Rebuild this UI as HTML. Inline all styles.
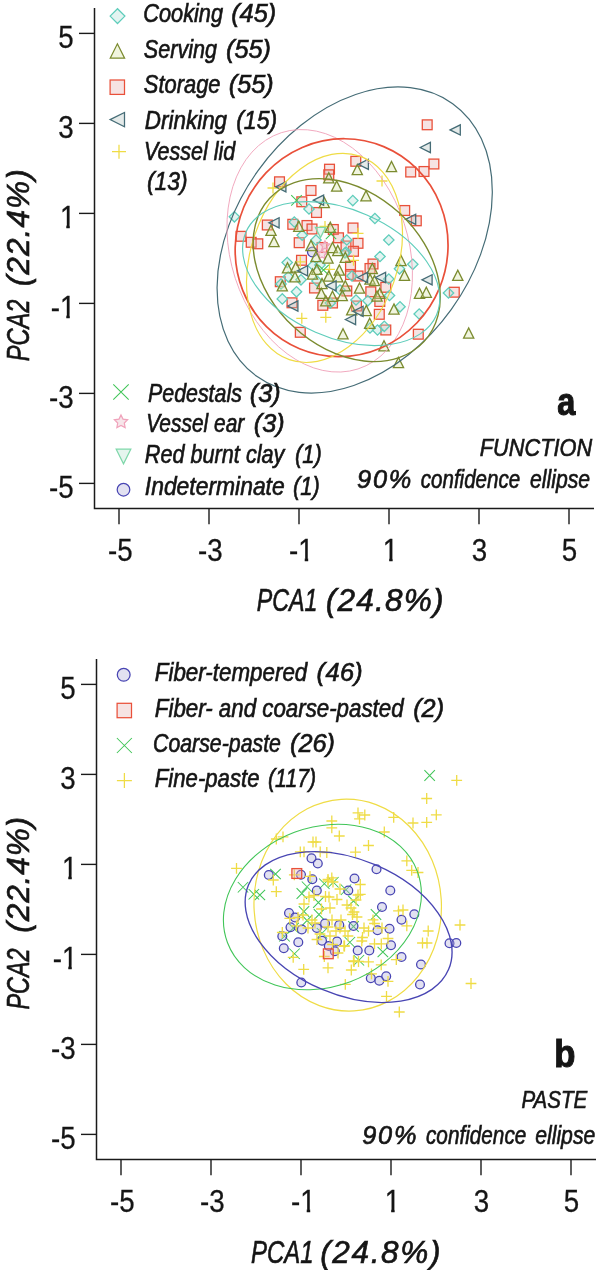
<!DOCTYPE html><html><head><meta charset="utf-8"><title>PCA</title><style>
html,body{margin:0;padding:0;background:#fff}svg{display:block;will-change:transform}
text{font-family:"Liberation Sans",sans-serif;fill:#151515;stroke:#151515;stroke-width:.35px}.i{font-style:italic;stroke-width:.65px}.b{font-weight:bold;stroke-width:1.1px}.n{stroke-width:.3px}
</style></head><body>
<svg width="600" height="1270" viewBox="0 0 600 1270">
<rect width="600" height="1270" fill="#fff"/>
<g id="pa">
<g stroke="#1a1a1a" stroke-width="1.5" fill="none">
<path d="M94.5 8V508.6H594"/>
</g><g stroke="#1a1a1a" stroke-width="1.4" fill="none">
<path d="M119 508.6V524.2"/>
<path d="M79 483.4H94.5"/>
<path d="M209 508.6V524.2"/>
<path d="M79 393.4H94.5"/>
<path d="M299 508.6V524.2"/>
<path d="M79 303.4H94.5"/>
<path d="M389 508.6V524.2"/>
<path d="M79 213.4H94.5"/>
<path d="M479 508.6V524.2"/>
<path d="M79 123.4H94.5"/>
<path d="M569 508.6V524.2"/>
<path d="M79 33.4H94.5"/>
</g>
<g transform="translate(120.4 560.7) scale(0.88 1)"><text class="n" font-size="31.5" x="-14.00" y="0">-5</text></g>
<g transform="translate(73.6 497.5) scale(0.88 1)"><text class="n" font-size="31.5" x="-28.00" y="0">-5</text></g>
<g transform="translate(210.4 560.7) scale(0.88 1)"><text class="n" font-size="31.5" x="-14.00" y="0">-3</text></g>
<g transform="translate(73.6 407.5) scale(0.88 1)"><text class="n" font-size="31.5" x="-28.00" y="0">-3</text></g>
<clipPath id="c20_0"><path d="M-40 -40H40V-2.7H7.7V2H3.8V-2.7H-40Z"/></clipPath>
<g transform="translate(301.4 560.7) scale(0.88 1)" clip-path="url(#c20_0)"><text class="n" font-size="31.5" x="-14.00" y="0">-1</text></g>
<clipPath id="c22_0"><path d="M-40 -40H40V-2.7H-6.3V2H-10.2V-2.7H-40Z"/></clipPath>
<g transform="translate(75.3 317.5) scale(0.88 1)" clip-path="url(#c22_0)"><text class="n" font-size="31.5" x="-28.00" y="0">-1</text></g>
<clipPath id="c24_0"><path d="M-40 -40H40V-2.7H2.4V2H-1.5V-2.7H-40Z"/></clipPath>
<g transform="translate(390.5 560.7) scale(0.88 1)" clip-path="url(#c24_0)"><text class="n" font-size="31.5" x="-8.76" y="0">1</text></g>
<clipPath id="c26_0"><path d="M-40 -40H40V-2.7H-6.3V2H-10.2V-2.7H-40Z"/></clipPath>
<g transform="translate(75.3 227.5) scale(0.88 1)" clip-path="url(#c26_0)"><text class="n" font-size="31.5" x="-17.51" y="0">1</text></g>
<g transform="translate(479.5 560.7) scale(0.88 1)"><text class="n" font-size="31.5" x="-8.76" y="0">3</text></g>
<g transform="translate(73.6 137.5) scale(0.88 1)"><text class="n" font-size="31.5" x="-17.51" y="0">3</text></g>
<g transform="translate(569.5 560.7) scale(0.88 1)"><text class="n" font-size="31.5" x="-8.76" y="0">5</text></g>
<g transform="translate(73.6 47.5) scale(0.88 1)"><text class="n" font-size="31.5" x="-17.51" y="0">5</text></g>
<g stroke-width="1.3" fill-opacity=".35">
<rect x="274.6" y="176.9" width="9.8" height="9.8" fill="rgb(229,175,175)" stroke="#e9503a"/>
<rect x="306.1" y="185.6" width="9.8" height="9.8" fill="rgb(229,175,175)" stroke="#e9503a"/>
<rect x="296.9" y="196.9" width="9.8" height="9.8" fill="rgb(229,175,175)" stroke="#e9503a"/>
<rect x="324.6" y="164.3" width="9.8" height="9.8" fill="rgb(229,175,175)" stroke="#e9503a"/>
<rect x="323.9" y="169.9" width="9.8" height="9.8" fill="rgb(229,175,175)" stroke="#e9503a"/>
<rect x="350.9" y="156.4" width="9.8" height="9.8" fill="rgb(229,175,175)" stroke="#e9503a"/>
<rect x="311.6" y="207.6" width="9.8" height="9.8" fill="rgb(229,175,175)" stroke="#e9503a"/>
<rect x="422.3" y="119.9" width="9.8" height="9.8" fill="rgb(229,175,175)" stroke="#e9503a"/>
<rect x="429" y="159.1" width="9.8" height="9.8" fill="rgb(229,175,175)" stroke="#e9503a"/>
<rect x="405.8" y="167.1" width="9.8" height="9.8" fill="rgb(229,175,175)" stroke="#e9503a"/>
<rect x="419.1" y="166.6" width="9.8" height="9.8" fill="rgb(229,175,175)" stroke="#e9503a"/>
<rect x="399.8" y="205.6" width="9.8" height="9.8" fill="rgb(229,175,175)" stroke="#e9503a"/>
<rect x="411.4" y="215.9" width="9.8" height="9.8" fill="rgb(229,175,175)" stroke="#e9503a"/>
<rect x="449.4" y="287.3" width="9.8" height="9.8" fill="rgb(229,175,175)" stroke="#e9503a"/>
<rect x="236.1" y="231.4" width="9.8" height="9.8" fill="rgb(229,175,175)" stroke="#e9503a"/>
<rect x="246.3" y="237.4" width="9.8" height="9.8" fill="rgb(229,175,175)" stroke="#e9503a"/>
<rect x="252.9" y="238.9" width="9.8" height="9.8" fill="rgb(229,175,175)" stroke="#e9503a"/>
<rect x="262.4" y="220.1" width="9.8" height="9.8" fill="rgb(229,175,175)" stroke="#e9503a"/>
<rect x="287.9" y="219.4" width="9.8" height="9.8" fill="rgb(229,175,175)" stroke="#e9503a"/>
<rect x="302.1" y="220.6" width="9.8" height="9.8" fill="rgb(229,175,175)" stroke="#e9503a"/>
<rect x="294.3" y="237.8" width="9.8" height="9.8" fill="rgb(229,175,175)" stroke="#e9503a"/>
<rect x="296.6" y="255.4" width="9.8" height="9.8" fill="rgb(229,175,175)" stroke="#e9503a"/>
<rect x="275.4" y="276.8" width="9.8" height="9.8" fill="rgb(229,175,175)" stroke="#e9503a"/>
<rect x="287.1" y="297.9" width="9.8" height="9.8" fill="rgb(229,175,175)" stroke="#e9503a"/>
<rect x="307.1" y="224.1" width="9.8" height="9.8" fill="rgb(229,175,175)" stroke="#e9503a"/>
<rect x="328.4" y="224.6" width="9.8" height="9.8" fill="rgb(229,175,175)" stroke="#e9503a"/>
<rect x="333.6" y="232.9" width="9.8" height="9.8" fill="rgb(229,175,175)" stroke="#e9503a"/>
<rect x="348.1" y="223.1" width="9.8" height="9.8" fill="rgb(229,175,175)" stroke="#e9503a"/>
<rect x="353.1" y="238.4" width="9.8" height="9.8" fill="rgb(229,175,175)" stroke="#e9503a"/>
<rect x="348.6" y="246.4" width="9.8" height="9.8" fill="rgb(229,175,175)" stroke="#e9503a"/>
<rect x="341.1" y="241.1" width="9.8" height="9.8" fill="rgb(229,175,175)" stroke="#e9503a"/>
<rect x="317.1" y="242.6" width="9.8" height="9.8" fill="rgb(229,175,175)" stroke="#e9503a"/>
<rect x="368.1" y="259.1" width="9.8" height="9.8" fill="rgb(229,175,175)" stroke="#e9503a"/>
<rect x="365.1" y="263.6" width="9.8" height="9.8" fill="rgb(229,175,175)" stroke="#e9503a"/>
<rect x="345.6" y="261.4" width="9.8" height="9.8" fill="rgb(229,175,175)" stroke="#e9503a"/>
<rect x="345.6" y="269.6" width="9.8" height="9.8" fill="rgb(229,175,175)" stroke="#e9503a"/>
<rect x="353.1" y="271.1" width="9.8" height="9.8" fill="rgb(229,175,175)" stroke="#e9503a"/>
<rect x="309.6" y="283.1" width="9.8" height="9.8" fill="rgb(229,175,175)" stroke="#e9503a"/>
<rect x="341.9" y="286.1" width="9.8" height="9.8" fill="rgb(229,175,175)" stroke="#e9503a"/>
<rect x="365.9" y="286.9" width="9.8" height="9.8" fill="rgb(229,175,175)" stroke="#e9503a"/>
<rect x="380.9" y="282.4" width="9.8" height="9.8" fill="rgb(229,175,175)" stroke="#e9503a"/>
<rect x="295.4" y="327.4" width="9.8" height="9.8" fill="rgb(229,175,175)" stroke="#e9503a"/>
<rect x="317.9" y="300.4" width="9.8" height="9.8" fill="rgb(229,175,175)" stroke="#e9503a"/>
<rect x="327.6" y="298.1" width="9.8" height="9.8" fill="rgb(229,175,175)" stroke="#e9503a"/>
<rect x="374.9" y="296.6" width="9.8" height="9.8" fill="rgb(229,175,175)" stroke="#e9503a"/>
<rect x="374.4" y="309.4" width="9.8" height="9.8" fill="rgb(229,175,175)" stroke="#e9503a"/>
<rect x="380.9" y="325.1" width="9.8" height="9.8" fill="rgb(229,175,175)" stroke="#e9503a"/>
<rect x="351.6" y="301.1" width="9.8" height="9.8" fill="rgb(229,175,175)" stroke="#e9503a"/>
<rect x="413.4" y="329.3" width="9.8" height="9.8" fill="rgb(229,175,175)" stroke="#e9503a"/>
<path d="M267.5 188H278.5M273 182.5V193.5" fill="none" stroke="#efdc45"/>
<path d="M376.5 181H387.5M382 175.5V186.5" fill="none" stroke="#efdc45"/>
<path d="M294.8 261.8H305.8M300.3 256.3V267.3" fill="none" stroke="#efdc45"/>
<path d="M319.5 226.5H330.5M325 221V232" fill="none" stroke="#efdc45"/>
<path d="M352.5 233.3H363.5M358 227.8V238.8" fill="none" stroke="#efdc45"/>
<path d="M348 260.3H359M353.5 254.8V265.8" fill="none" stroke="#efdc45"/>
<path d="M324 269.3H335M329.5 263.8V274.8" fill="none" stroke="#efdc45"/>
<path d="M296.3 318.3H307.3M301.8 312.8V323.8" fill="none" stroke="#efdc45"/>
<path d="M320.3 317.3H331.3M325.8 311.8V322.8" fill="none" stroke="#efdc45"/>
<path d="M229.2 216.8L234.4 211.6L239.6 216.8L234.4 222Z" fill="rgb(175,224,215)" stroke="#5fcdbb"/>
<path d="M347.6 200.6L352.8 195.4L358 200.6L352.8 205.8Z" fill="rgb(175,224,215)" stroke="#5fcdbb"/>
<path d="M303.8 209L309 203.8L314.2 209L309 214.2Z" fill="rgb(175,224,215)" stroke="#5fcdbb"/>
<path d="M369.7 218.5L374.9 213.3L380.1 218.5L374.9 223.7Z" fill="rgb(175,224,215)" stroke="#5fcdbb"/>
<path d="M289.1 222L294.3 216.8L299.5 222L294.3 227.2Z" fill="rgb(175,224,215)" stroke="#5fcdbb"/>
<path d="M297 235.2L302.2 230L307.4 235.2L302.2 240.4Z" fill="rgb(175,224,215)" stroke="#5fcdbb"/>
<path d="M282 262.5L287.2 257.3L292.4 262.5L287.2 267.7Z" fill="rgb(175,224,215)" stroke="#5fcdbb"/>
<path d="M283.1 276.8L288.3 271.6L293.5 276.8L288.3 282Z" fill="rgb(175,224,215)" stroke="#5fcdbb"/>
<path d="M295.8 279.8L301 274.6L306.2 279.8L301 285Z" fill="rgb(175,224,215)" stroke="#5fcdbb"/>
<path d="M291.3 291.8L296.5 286.6L301.7 291.8L296.5 297Z" fill="rgb(175,224,215)" stroke="#5fcdbb"/>
<path d="M277.1 298.9L282.3 293.7L287.5 298.9L282.3 304.1Z" fill="rgb(175,224,215)" stroke="#5fcdbb"/>
<path d="M383.6 240L388.8 234.8L394 240L388.8 245.2Z" fill="rgb(175,224,215)" stroke="#5fcdbb"/>
<path d="M374.8 256.5L380 251.3L385.2 256.5L380 261.7Z" fill="rgb(175,224,215)" stroke="#5fcdbb"/>
<path d="M341.6 240L346.8 234.8L352 240L346.8 245.2Z" fill="rgb(175,224,215)" stroke="#5fcdbb"/>
<path d="M310.8 240L316 234.8L321.2 240L316 245.2Z" fill="rgb(175,224,215)" stroke="#5fcdbb"/>
<path d="M340.8 252L346 246.8L351.2 252L346 257.2Z" fill="rgb(175,224,215)" stroke="#5fcdbb"/>
<path d="M346.8 276L352 270.8L357.2 276L352 281.2Z" fill="rgb(175,224,215)" stroke="#5fcdbb"/>
<path d="M383.6 279L388.8 273.8L394 279L388.8 284.2Z" fill="rgb(175,224,215)" stroke="#5fcdbb"/>
<path d="M384.3 295.5L389.5 290.3L394.7 295.5L389.5 300.7Z" fill="rgb(175,224,215)" stroke="#5fcdbb"/>
<path d="M350.8 300L356 294.8L361.2 300L356 305.2Z" fill="rgb(175,224,215)" stroke="#5fcdbb"/>
<path d="M362.6 300.8L367.8 295.6L373 300.8L367.8 306Z" fill="rgb(175,224,215)" stroke="#5fcdbb"/>
<path d="M394.3 268.8L399.5 263.6L404.7 268.8L399.5 274Z" fill="rgb(175,224,215)" stroke="#5fcdbb"/>
<path d="M307.8 265.5L313 260.3L318.2 265.5L313 270.7Z" fill="rgb(175,224,215)" stroke="#5fcdbb"/>
<path d="M407.6 264.3L412.8 259.1L418 264.3L412.8 269.5Z" fill="rgb(175,224,215)" stroke="#5fcdbb"/>
<path d="M443.3 293L448.5 287.8L453.7 293L448.5 298.2Z" fill="rgb(175,224,215)" stroke="#5fcdbb"/>
<path d="M372.3 330L377.5 324.8L382.7 330L377.5 335.2Z" fill="rgb(175,224,215)" stroke="#5fcdbb"/>
<path d="M379.1 326.3L384.3 321.1L389.5 326.3L384.3 331.5Z" fill="rgb(175,224,215)" stroke="#5fcdbb"/>
<path d="M364.8 328L370 322.8L375.2 328L370 333.2Z" fill="rgb(175,224,215)" stroke="#5fcdbb"/>
<path d="M325.1 303L330.3 297.8L335.5 303L330.3 308.2Z" fill="rgb(175,224,215)" stroke="#5fcdbb"/>
<path d="M394.8 306.8L400 301.6L405.2 306.8L400 312Z" fill="rgb(175,224,215)" stroke="#5fcdbb"/>
<path d="M414 314L419.2 308.8L424.4 314L419.2 319.2Z" fill="rgb(175,224,215)" stroke="#5fcdbb"/>
<path d="M314.8 265L320 259.8L325.2 265L320 270.2Z" fill="rgb(175,224,215)" stroke="#5fcdbb"/>
<path d="M275.8 284L281 278.8L286.2 284L281 289.2Z" fill="rgb(175,224,215)" stroke="#5fcdbb"/>
<path d="M311.8 281L317 275.8L322.2 281L317 286.2Z" fill="rgb(175,224,215)" stroke="#5fcdbb"/>
<path d="M339.8 253L345 247.8L350.2 253L345 258.2Z" fill="rgb(175,224,215)" stroke="#5fcdbb"/>
<path d="M334.8 290L340 284.8L345.2 290L340 295.2Z" fill="rgb(175,224,215)" stroke="#5fcdbb"/>
<circle cx="312.3" cy="252" r="4.8" fill="rgb(172,169,215)" stroke="#4845b3"/>
<polygon points="325,240.7 326.5,243.7 329.8,244.1 327.4,246.5 328,249.8 325,248.2 322,249.8 322.6,246.5 320.2,244.1 323.5,243.7" fill="rgb(229,184,195)" stroke="#f0a3bb"/>
<polygon points="322,249.4 323.5,252.4 326.8,252.8 324.4,255.2 325,258.5 322,256.9 319,258.5 319.6,255.2 317.2,252.8 320.5,252.4" fill="rgb(229,184,195)" stroke="#f0a3bb"/>
<path d="M315.4 227.4L325.6 227.4L320.5 237.6Z" fill="rgb(181,226,206)" stroke="#7ed7a9"/>
<path d="M291.2 195.2L301.8 205.7M291.2 205.7L301.8 195.2" fill="none" stroke="#41c558" stroke-width="1.05"/>
<path d="M325.8 228.8L336.2 239.2M325.8 239.2L336.2 228.8" fill="none" stroke="#41c558" stroke-width="1.05"/>
<path d="M318.2 264.8L328.8 275.2M318.2 275.2L328.8 264.8" fill="none" stroke="#41c558" stroke-width="1.05"/>
<path d="M323.7 182.9L328.8 172.7L333.9 182.9Z" fill="rgb(215,226,164)" stroke="#7b8b2f"/>
<path d="M331.6 191.1L336.7 180.9L341.8 191.1Z" fill="rgb(215,226,164)" stroke="#7b8b2f"/>
<path d="M352.2 174.6L357.3 164.4L362.4 174.6Z" fill="rgb(215,226,164)" stroke="#7b8b2f"/>
<path d="M386.4 171.6L391.5 161.4L396.6 171.6Z" fill="rgb(215,226,164)" stroke="#7b8b2f"/>
<path d="M360.9 200.9L366 190.7L371.1 200.9Z" fill="rgb(215,226,164)" stroke="#7b8b2f"/>
<path d="M319.2 207.6L324.3 197.4L329.4 207.6Z" fill="rgb(215,226,164)" stroke="#7b8b2f"/>
<path d="M265.9 235.4L271 225.2L276.1 235.4Z" fill="rgb(215,226,164)" stroke="#7b8b2f"/>
<path d="M268.9 246.6L274 236.4L279.1 246.6Z" fill="rgb(215,226,164)" stroke="#7b8b2f"/>
<path d="M293.7 231.3L298.8 221.1L303.9 231.3Z" fill="rgb(215,226,164)" stroke="#7b8b2f"/>
<path d="M282.4 272.9L287.5 262.7L292.6 272.9Z" fill="rgb(215,226,164)" stroke="#7b8b2f"/>
<path d="M290.7 272.1L295.8 261.9L300.9 272.1Z" fill="rgb(215,226,164)" stroke="#7b8b2f"/>
<path d="M289.9 281.9L295 271.7L300.1 281.9Z" fill="rgb(215,226,164)" stroke="#7b8b2f"/>
<path d="M277.2 290.9L282.3 280.7L287.4 290.9Z" fill="rgb(215,226,164)" stroke="#7b8b2f"/>
<path d="M325.2 232.3L330.3 222.1L335.4 232.3Z" fill="rgb(215,226,164)" stroke="#7b8b2f"/>
<path d="M305.9 250.6L311 240.4L316.1 250.6Z" fill="rgb(215,226,164)" stroke="#7b8b2f"/>
<path d="M327.4 252.6L332.5 242.4L337.6 252.6Z" fill="rgb(215,226,164)" stroke="#7b8b2f"/>
<path d="M332.7 255.6L337.8 245.4L342.9 255.6Z" fill="rgb(215,226,164)" stroke="#7b8b2f"/>
<path d="M310.9 261.6L316 251.4L321.1 261.6Z" fill="rgb(215,226,164)" stroke="#7b8b2f"/>
<path d="M322.9 263.1L328 252.9L333.1 263.1Z" fill="rgb(215,226,164)" stroke="#7b8b2f"/>
<path d="M340.2 262.4L345.3 252.2L350.4 262.4Z" fill="rgb(215,226,164)" stroke="#7b8b2f"/>
<path d="M311.7 274.4L316.8 264.2L321.9 274.4Z" fill="rgb(215,226,164)" stroke="#7b8b2f"/>
<path d="M334.2 275.1L339.3 264.9L344.4 275.1Z" fill="rgb(215,226,164)" stroke="#7b8b2f"/>
<path d="M323.7 281.1L328.8 270.9L333.9 281.1Z" fill="rgb(215,226,164)" stroke="#7b8b2f"/>
<path d="M332.7 281.9L337.8 271.7L342.9 281.9Z" fill="rgb(215,226,164)" stroke="#7b8b2f"/>
<path d="M367.2 273.6L372.3 263.4L377.4 273.6Z" fill="rgb(215,226,164)" stroke="#7b8b2f"/>
<path d="M316.9 288.6L322 278.4L327.1 288.6Z" fill="rgb(215,226,164)" stroke="#7b8b2f"/>
<path d="M340.2 290.9L345.3 280.7L350.4 290.9Z" fill="rgb(215,226,164)" stroke="#7b8b2f"/>
<path d="M316.2 298.4L321.3 288.2L326.4 298.4Z" fill="rgb(215,226,164)" stroke="#7b8b2f"/>
<path d="M354.4 293.1L359.5 282.9L364.6 293.1Z" fill="rgb(215,226,164)" stroke="#7b8b2f"/>
<path d="M364.9 284.1L370 273.9L375.1 284.1Z" fill="rgb(215,226,164)" stroke="#7b8b2f"/>
<path d="M369.4 285.6L374.5 275.4L379.6 285.6Z" fill="rgb(215,226,164)" stroke="#7b8b2f"/>
<path d="M374.7 298.4L379.8 288.2L384.9 298.4Z" fill="rgb(215,226,164)" stroke="#7b8b2f"/>
<path d="M337.2 300.6L342.3 290.4L347.4 300.6Z" fill="rgb(215,226,164)" stroke="#7b8b2f"/>
<path d="M327.4 301.4L332.5 291.2L337.6 301.4Z" fill="rgb(215,226,164)" stroke="#7b8b2f"/>
<path d="M395.9 265.6L401 255.4L406.1 265.6Z" fill="rgb(215,226,164)" stroke="#7b8b2f"/>
<path d="M399.4 280.4L404.5 270.2L409.6 280.4Z" fill="rgb(215,226,164)" stroke="#7b8b2f"/>
<path d="M452.7 280.4L457.8 270.2L462.9 280.4Z" fill="rgb(215,226,164)" stroke="#7b8b2f"/>
<path d="M414.4 298.4L419.5 288.2L424.6 298.4Z" fill="rgb(215,226,164)" stroke="#7b8b2f"/>
<path d="M421.2 297.3L426.3 287.1L431.4 297.3Z" fill="rgb(215,226,164)" stroke="#7b8b2f"/>
<path d="M320.7 305.9L325.8 295.7L330.9 305.9Z" fill="rgb(215,226,164)" stroke="#7b8b2f"/>
<path d="M346.6 314.9L351.7 304.7L356.8 314.9Z" fill="rgb(215,226,164)" stroke="#7b8b2f"/>
<path d="M361.2 315.6L366.3 305.4L371.4 315.6Z" fill="rgb(215,226,164)" stroke="#7b8b2f"/>
<path d="M364.6 328.4L369.7 318.2L374.8 328.4Z" fill="rgb(215,226,164)" stroke="#7b8b2f"/>
<path d="M337.9 338.9L343 328.7L348.1 338.9Z" fill="rgb(215,226,164)" stroke="#7b8b2f"/>
<path d="M388.9 314.1L394 303.9L399.1 314.1Z" fill="rgb(215,226,164)" stroke="#7b8b2f"/>
<path d="M378.9 350.9L384 340.7L389.1 350.9Z" fill="rgb(215,226,164)" stroke="#7b8b2f"/>
<path d="M393.4 367.6L398.5 357.4L403.6 367.6Z" fill="rgb(215,226,164)" stroke="#7b8b2f"/>
<path d="M463.6 338.1L468.7 327.9L473.8 338.1Z" fill="rgb(215,226,164)" stroke="#7b8b2f"/>
<path d="M307.4 279.1L312.5 268.9L317.6 279.1Z" fill="rgb(215,226,164)" stroke="#7b8b2f"/>
<path d="M371.9 301.1L377 290.9L382.1 301.1Z" fill="rgb(215,226,164)" stroke="#7b8b2f"/>
<path d="M275.7 186.8L285.9 181.7L285.9 191.9Z" fill="rgb(178,195,192)" stroke="#456c76"/>
<path d="M313.4 200.2L323.6 195.1L323.6 205.3Z" fill="rgb(178,195,192)" stroke="#456c76"/>
<path d="M358.2 164.3L368.4 159.2L368.4 169.4Z" fill="rgb(178,195,192)" stroke="#456c76"/>
<path d="M450.1 129.9L460.3 124.8L460.3 135Z" fill="rgb(178,195,192)" stroke="#456c76"/>
<path d="M420.2 147.5L430.4 142.4L430.4 152.6Z" fill="rgb(178,195,192)" stroke="#456c76"/>
<path d="M405.5 219.3L415.7 214.2L415.7 224.4Z" fill="rgb(178,195,192)" stroke="#456c76"/>
<path d="M421.9 279.8L432.1 274.7L432.1 284.9Z" fill="rgb(178,195,192)" stroke="#456c76"/>
<path d="M268.9 222.8L279.1 217.7L279.1 227.9Z" fill="rgb(178,195,192)" stroke="#456c76"/>
<path d="M297.4 270.8L307.6 265.7L307.6 275.9Z" fill="rgb(178,195,192)" stroke="#456c76"/>
<path d="M325.9 285.8L336.1 280.7L336.1 290.9Z" fill="rgb(178,195,192)" stroke="#456c76"/>
<path d="M357.4 277.5L367.6 272.4L367.6 282.6Z" fill="rgb(178,195,192)" stroke="#456c76"/>
<path d="M375.4 277.5L385.6 272.4L385.6 282.6Z" fill="rgb(178,195,192)" stroke="#456c76"/>
<path d="M287.7 306L297.9 300.9L297.9 311.1Z" fill="rgb(178,195,192)" stroke="#456c76"/>
<path d="M352.9 311.3L363.1 306.2L363.1 316.4Z" fill="rgb(178,195,192)" stroke="#456c76"/>
<path d="M345.4 319.5L355.6 314.4L355.6 324.6Z" fill="rgb(178,195,192)" stroke="#456c76"/>
<ellipse cx="354.7" cy="240" rx="167.9" ry="119" transform="rotate(-54.3 354.7 240)" fill="none" stroke="#456c76" stroke-width="1.2"/>
<ellipse cx="319.7" cy="250.8" rx="124.2" ry="88.8" transform="rotate(-108 319.7 250.8)" fill="none" stroke="#f0a3bb" stroke-width="0.85"/>
<ellipse cx="341.6" cy="247.7" rx="109.5" ry="105.9" transform="rotate(-67.4 341.6 247.7)" fill="none" stroke="#e9503a" stroke-width="1.7"/>
<ellipse cx="324.5" cy="257.9" rx="107.7" ry="73.4" transform="rotate(-70.9 324.5 257.9)" fill="none" stroke="#efdc45" stroke-width="1.2"/>
<ellipse cx="346.7" cy="270.1" rx="105.3" ry="77.7" transform="rotate(-137.2 346.7 270.1)" fill="none" stroke="#7b8b2f" stroke-width="1.4"/>
<ellipse cx="341.2" cy="273.6" rx="103.9" ry="64" transform="rotate(-156.4 341.2 273.6)" fill="none" stroke="#5fcdbb" stroke-width="1.15"/>
</g><g stroke-width="1.25" fill-opacity=".35">
<path d="M110.1 16.1L117.5 8.7L124.9 16.1L117.5 23.5Z" fill="rgb(175,224,215)" stroke="#5fcdbb"/>
<path d="M110.2 58.2L117.4 43.8L124.6 58.2Z" fill="rgb(215,226,164)" stroke="#7b8b2f"/>
<rect x="110.1" y="80" width="14.4" height="14.4" fill="rgb(229,175,175)" stroke="#e9503a"/>
<path d="M110.1 119.6L124.5 112.4L124.5 126.8Z" fill="rgb(178,195,192)" stroke="#456c76"/>
<path d="M112 151.7H126M119 144.7V158.7" fill="none" stroke="#efdc45"/>
<path d="M113.3 384.4L128.7 399.6M113.3 399.6L128.7 384.4" fill="none" stroke="#41c558" stroke-width="1.05"/>
<polygon points="121,415 123,419.1 127.6,419.8 124.3,423 125.1,427.5 121,425.4 116.9,427.5 117.7,423 114.4,419.8 119,419.1" fill="rgb(229,184,195)" stroke="#f0a3bb"/>
<path d="M116.2 449.2L130.8 449.2L123.5 463.8Z" fill="rgb(181,226,206)" stroke="#7ed7a9"/>
<circle cx="123.5" cy="489.7" r="6.3" fill="rgb(172,169,215)" stroke="#4845b3"/>
</g>
</g>
<g id="pb">
<g stroke="#1a1a1a" stroke-width="1.5" fill="none">
<path d="M96.5 659V1159.6H596"/>
</g><g stroke="#1a1a1a" stroke-width="1.4" fill="none">
<path d="M121 1159.6V1175.2"/>
<path d="M81 1134.4H96.5"/>
<path d="M211 1159.6V1175.2"/>
<path d="M81 1044.4H96.5"/>
<path d="M301 1159.6V1175.2"/>
<path d="M81 954.4H96.5"/>
<path d="M391 1159.6V1175.2"/>
<path d="M81 864.4H96.5"/>
<path d="M481 1159.6V1175.2"/>
<path d="M81 774.4H96.5"/>
<path d="M571 1159.6V1175.2"/>
<path d="M81 684.4H96.5"/>
</g>
<g transform="translate(122.4 1211.7) scale(0.88 1)"><text class="n" font-size="31.5" x="-14.00" y="0">-5</text></g>
<g transform="translate(75.6 1148.5) scale(0.88 1)"><text class="n" font-size="31.5" x="-28.00" y="0">-5</text></g>
<g transform="translate(212.4 1211.7) scale(0.88 1)"><text class="n" font-size="31.5" x="-14.00" y="0">-3</text></g>
<g transform="translate(75.6 1058.5) scale(0.88 1)"><text class="n" font-size="31.5" x="-28.00" y="0">-3</text></g>
<clipPath id="c20_651"><path d="M-40 -40H40V-2.7H7.7V2H3.8V-2.7H-40Z"/></clipPath>
<g transform="translate(303.4 1211.7) scale(0.88 1)" clip-path="url(#c20_651)"><text class="n" font-size="31.5" x="-14.00" y="0">-1</text></g>
<clipPath id="c22_651"><path d="M-40 -40H40V-2.7H-6.3V2H-10.2V-2.7H-40Z"/></clipPath>
<g transform="translate(77.3 968.5) scale(0.88 1)" clip-path="url(#c22_651)"><text class="n" font-size="31.5" x="-28.00" y="0">-1</text></g>
<clipPath id="c24_651"><path d="M-40 -40H40V-2.7H2.4V2H-1.5V-2.7H-40Z"/></clipPath>
<g transform="translate(392.5 1211.7) scale(0.88 1)" clip-path="url(#c24_651)"><text class="n" font-size="31.5" x="-8.76" y="0">1</text></g>
<clipPath id="c26_651"><path d="M-40 -40H40V-2.7H-6.3V2H-10.2V-2.7H-40Z"/></clipPath>
<g transform="translate(77.3 878.5) scale(0.88 1)" clip-path="url(#c26_651)"><text class="n" font-size="31.5" x="-17.51" y="0">1</text></g>
<g transform="translate(481.5 1211.7) scale(0.88 1)"><text class="n" font-size="31.5" x="-8.76" y="0">3</text></g>
<g transform="translate(75.6 788.5) scale(0.88 1)"><text class="n" font-size="31.5" x="-17.51" y="0">3</text></g>
<g transform="translate(571.5 1211.7) scale(0.88 1)"><text class="n" font-size="31.5" x="-8.76" y="0">5</text></g>
<g transform="translate(75.6 698.5) scale(0.88 1)"><text class="n" font-size="31.5" x="-17.51" y="0">5</text></g>
<g stroke-width="1.3" fill-opacity=".35">
<path d="M424.4 770.2L434.9 780.8M424.4 780.8L434.9 770.2" fill="none" stroke="#41c558" stroke-width="1.05"/>
<path d="M237.8 882L248.2 892.5M237.8 892.5L248.2 882" fill="none" stroke="#41c558" stroke-width="1.05"/>
<path d="M248.6 889L259.1 899.5M248.6 899.5L259.1 889" fill="none" stroke="#41c558" stroke-width="1.05"/>
<path d="M254.6 889.8L265.1 900.2M254.6 900.2L265.1 889.8" fill="none" stroke="#41c558" stroke-width="1.05"/>
<path d="M270.2 868.8L280.8 879.2M270.2 879.2L280.8 868.8" fill="none" stroke="#41c558" stroke-width="1.05"/>
<path d="M296.6 888.2L307.1 898.8M296.6 898.8L307.1 888.2" fill="none" stroke="#41c558" stroke-width="1.05"/>
<path d="M301.8 881.5L312.2 892M301.8 892L312.2 881.5" fill="none" stroke="#41c558" stroke-width="1.05"/>
<path d="M298.8 906.2L309.2 916.8M298.8 916.8L309.2 906.2" fill="none" stroke="#41c558" stroke-width="1.05"/>
<path d="M301.8 915.2L312.2 925.8M301.8 925.8L312.2 915.2" fill="none" stroke="#41c558" stroke-width="1.05"/>
<path d="M288.2 922.8L298.8 933.2M288.2 933.2L298.8 922.8" fill="none" stroke="#41c558" stroke-width="1.05"/>
<path d="M279.2 931L289.8 941.5M279.2 941.5L289.8 931" fill="none" stroke="#41c558" stroke-width="1.05"/>
<path d="M319.1 878.5L329.6 889M319.1 889L329.6 878.5" fill="none" stroke="#41c558" stroke-width="1.05"/>
<path d="M328.1 877L338.6 887.5M328.1 887.5L338.6 877" fill="none" stroke="#41c558" stroke-width="1.05"/>
<path d="M340.8 884.5L351.2 895M340.8 895L351.2 884.5" fill="none" stroke="#41c558" stroke-width="1.05"/>
<path d="M348.2 895.8L358.8 906.2M348.2 906.2L358.8 895.8" fill="none" stroke="#41c558" stroke-width="1.05"/>
<path d="M313.1 897.2L323.6 907.8M313.1 907.8L323.6 897.2" fill="none" stroke="#41c558" stroke-width="1.05"/>
<path d="M313.8 909.2L324.2 919.8M313.8 919.8L324.2 909.2" fill="none" stroke="#41c558" stroke-width="1.05"/>
<path d="M370.8 909.2L381.2 919.8M370.8 919.8L381.2 909.2" fill="none" stroke="#41c558" stroke-width="1.05"/>
<path d="M348.2 921.2L358.8 931.8M348.2 931.8L358.8 921.2" fill="none" stroke="#41c558" stroke-width="1.05"/>
<path d="M316.8 928L327.2 938.5M316.8 938.5L327.2 928" fill="none" stroke="#41c558" stroke-width="1.05"/>
<path d="M344.6 937L355.1 947.5M344.6 947.5L355.1 937" fill="none" stroke="#41c558" stroke-width="1.05"/>
<path d="M289.2 948.5L299.8 959M289.2 959L299.8 948.5" fill="none" stroke="#41c558" stroke-width="1.05"/>
<path d="M353.6 955L364.1 965.5M353.6 965.5L364.1 955" fill="none" stroke="#41c558" stroke-width="1.05"/>
<path d="M377.6 946.8L388.1 957.2M377.6 957.2L388.1 946.8" fill="none" stroke="#41c558" stroke-width="1.05"/>
<circle cx="268.8" cy="875" r="4.4" fill="rgb(172,169,215)" stroke="#4845b3"/>
<circle cx="301" cy="874.8" r="4.4" fill="rgb(172,169,215)" stroke="#4845b3"/>
<circle cx="311.5" cy="858.3" r="4.4" fill="rgb(172,169,215)" stroke="#4845b3"/>
<circle cx="289" cy="913" r="4.4" fill="rgb(172,169,215)" stroke="#4845b3"/>
<circle cx="295" cy="917.5" r="4.4" fill="rgb(172,169,215)" stroke="#4845b3"/>
<circle cx="290.5" cy="927.3" r="4.4" fill="rgb(172,169,215)" stroke="#4845b3"/>
<circle cx="301.8" cy="929.5" r="4.4" fill="rgb(172,169,215)" stroke="#4845b3"/>
<circle cx="282.3" cy="936.3" r="4.4" fill="rgb(172,169,215)" stroke="#4845b3"/>
<circle cx="298.3" cy="942.3" r="4.4" fill="rgb(172,169,215)" stroke="#4845b3"/>
<circle cx="317.8" cy="863.5" r="4.4" fill="rgb(172,169,215)" stroke="#4845b3"/>
<circle cx="312.3" cy="879.3" r="4.4" fill="rgb(172,169,215)" stroke="#4845b3"/>
<circle cx="316.8" cy="890.5" r="4.4" fill="rgb(172,169,215)" stroke="#4845b3"/>
<circle cx="354.5" cy="878.5" r="4.4" fill="rgb(172,169,215)" stroke="#4845b3"/>
<circle cx="348.3" cy="890.5" r="4.4" fill="rgb(172,169,215)" stroke="#4845b3"/>
<circle cx="376.5" cy="869.2" r="4.4" fill="rgb(172,169,215)" stroke="#4845b3"/>
<circle cx="390.3" cy="890.5" r="4.4" fill="rgb(172,169,215)" stroke="#4845b3"/>
<circle cx="382" cy="907" r="4.4" fill="rgb(172,169,215)" stroke="#4845b3"/>
<circle cx="401.5" cy="919.8" r="4.4" fill="rgb(172,169,215)" stroke="#4845b3"/>
<circle cx="325" cy="923.5" r="4.4" fill="rgb(172,169,215)" stroke="#4845b3"/>
<circle cx="316.8" cy="928" r="4.4" fill="rgb(172,169,215)" stroke="#4845b3"/>
<circle cx="339.3" cy="925" r="4.4" fill="rgb(172,169,215)" stroke="#4845b3"/>
<circle cx="353.5" cy="926" r="4.4" fill="rgb(172,169,215)" stroke="#4845b3"/>
<circle cx="377.5" cy="930.3" r="4.4" fill="rgb(172,169,215)" stroke="#4845b3"/>
<circle cx="389.5" cy="928.8" r="4.4" fill="rgb(172,169,215)" stroke="#4845b3"/>
<circle cx="414.3" cy="914.2" r="4.4" fill="rgb(172,169,215)" stroke="#4845b3"/>
<circle cx="449.5" cy="943.3" r="4.4" fill="rgb(172,169,215)" stroke="#4845b3"/>
<circle cx="456.3" cy="943" r="4.4" fill="rgb(172,169,215)" stroke="#4845b3"/>
<circle cx="283.8" cy="948.3" r="4.4" fill="rgb(172,169,215)" stroke="#4845b3"/>
<circle cx="301.3" cy="982.5" r="4.4" fill="rgb(172,169,215)" stroke="#4845b3"/>
<circle cx="322" cy="940.8" r="4.4" fill="rgb(172,169,215)" stroke="#4845b3"/>
<circle cx="337" cy="941.5" r="4.4" fill="rgb(172,169,215)" stroke="#4845b3"/>
<circle cx="328.8" cy="946" r="4.4" fill="rgb(172,169,215)" stroke="#4845b3"/>
<circle cx="334.8" cy="951.3" r="4.4" fill="rgb(172,169,215)" stroke="#4845b3"/>
<circle cx="357.7" cy="950.5" r="4.4" fill="rgb(172,169,215)" stroke="#4845b3"/>
<circle cx="369.3" cy="950.5" r="4.4" fill="rgb(172,169,215)" stroke="#4845b3"/>
<circle cx="391" cy="945.3" r="4.4" fill="rgb(172,169,215)" stroke="#4845b3"/>
<circle cx="370.8" cy="978.3" r="4.4" fill="rgb(172,169,215)" stroke="#4845b3"/>
<circle cx="379.3" cy="980.8" r="4.4" fill="rgb(172,169,215)" stroke="#4845b3"/>
<circle cx="386.2" cy="976.3" r="4.4" fill="rgb(172,169,215)" stroke="#4845b3"/>
<circle cx="401.5" cy="957" r="4.4" fill="rgb(172,169,215)" stroke="#4845b3"/>
<circle cx="421" cy="964.5" r="4.4" fill="rgb(172,169,215)" stroke="#4845b3"/>
<circle cx="420" cy="984.5" r="4.4" fill="rgb(172,169,215)" stroke="#4845b3"/>
<path d="M270.9 839H281.7M276.3 833.6V844.4" fill="none" stroke="#efdc45"/>
<path d="M277.6 836.8H288.4M283 831.4V842.2" fill="none" stroke="#efdc45"/>
<path d="M294.9 851.8H305.7M300.3 846.4V857.2" fill="none" stroke="#efdc45"/>
<path d="M298.6 851.8H309.4M304 846.4V857.2" fill="none" stroke="#efdc45"/>
<path d="M352.6 812.8H363.4M358 807.4V818.2" fill="none" stroke="#efdc45"/>
<path d="M359.4 815H370.2M364.8 809.6V820.4" fill="none" stroke="#efdc45"/>
<path d="M354.1 818.8H364.9M359.5 813.4V824.2" fill="none" stroke="#efdc45"/>
<path d="M326.4 821H337.2M331.8 815.6V826.4" fill="none" stroke="#efdc45"/>
<path d="M326.4 827.8H337.2M331.8 822.4V833.2" fill="none" stroke="#efdc45"/>
<path d="M333.9 836H344.7M339.3 830.6V841.4" fill="none" stroke="#efdc45"/>
<path d="M388.3 817.3H399.1M393.7 811.9V822.7" fill="none" stroke="#efdc45"/>
<path d="M378.9 832H389.7M384.3 826.6V837.4" fill="none" stroke="#efdc45"/>
<path d="M363.1 845.5H373.9M368.5 840.1V850.9" fill="none" stroke="#efdc45"/>
<path d="M350.1 852.2H360.9M355.5 846.8V857.6" fill="none" stroke="#efdc45"/>
<path d="M307.6 842H318.4M313 836.6V847.4" fill="none" stroke="#efdc45"/>
<path d="M310.6 842H321.4M316 836.6V847.4" fill="none" stroke="#efdc45"/>
<path d="M314.8 851.8H325.6M320.2 846.4V857.2" fill="none" stroke="#efdc45"/>
<path d="M321.4 852.5H332.2M326.8 847.1V857.9" fill="none" stroke="#efdc45"/>
<path d="M451.3 780.3H462.1M456.7 774.9V785.7" fill="none" stroke="#efdc45"/>
<path d="M421.3 798.5H432.1M426.7 793.1V803.9" fill="none" stroke="#efdc45"/>
<path d="M430.9 814.8H441.7M436.3 809.4V820.2" fill="none" stroke="#efdc45"/>
<path d="M407.6 823H418.4M413 817.6V828.4" fill="none" stroke="#efdc45"/>
<path d="M421.3 822.3H432.1M426.7 816.9V827.7" fill="none" stroke="#efdc45"/>
<path d="M231.1 868.3H241.9M236.5 862.9V873.7" fill="none" stroke="#efdc45"/>
<path d="M267.9 880H278.7M273.3 874.6V885.4" fill="none" stroke="#efdc45"/>
<path d="M270.9 891.7H281.7M276.3 886.3V897.1" fill="none" stroke="#efdc45"/>
<path d="M288.9 874.8H299.7M294.3 869.4V880.2" fill="none" stroke="#efdc45"/>
<path d="M304.6 876.3H315.4M310 870.9V881.7" fill="none" stroke="#efdc45"/>
<path d="M284.4 918.3H295.2M289.8 912.9V923.7" fill="none" stroke="#efdc45"/>
<path d="M292.6 917.5H303.4M298 912.1V922.9" fill="none" stroke="#efdc45"/>
<path d="M291.1 925.8H301.9M296.5 920.4V931.2" fill="none" stroke="#efdc45"/>
<path d="M276.9 932.5H287.7M282.3 927.1V937.9" fill="none" stroke="#efdc45"/>
<path d="M326.4 877.8H337.2M331.8 872.4V883.2" fill="none" stroke="#efdc45"/>
<path d="M322.6 879.3H333.4M328 873.9V884.7" fill="none" stroke="#efdc45"/>
<path d="M354.9 884.5H365.7M360.3 879.1V889.9" fill="none" stroke="#efdc45"/>
<path d="M354.9 894.3H365.7M360.3 888.9V899.7" fill="none" stroke="#efdc45"/>
<path d="M367.6 919.8H378.4M373 914.4V925.2" fill="none" stroke="#efdc45"/>
<path d="M369.1 923.5H379.9M374.5 918.1V928.9" fill="none" stroke="#efdc45"/>
<path d="M358.6 928H369.4M364 922.6V933.4" fill="none" stroke="#efdc45"/>
<path d="M363.1 931H373.9M368.5 925.6V936.4" fill="none" stroke="#efdc45"/>
<path d="M376.6 928H387.4M382 922.6V933.4" fill="none" stroke="#efdc45"/>
<path d="M357.1 937.5H367.9M362.5 932.1V942.9" fill="none" stroke="#efdc45"/>
<path d="M382.6 938.5H393.4M388 933.1V943.9" fill="none" stroke="#efdc45"/>
<path d="M393.1 910.8H403.9M398.5 905.4V916.2" fill="none" stroke="#efdc45"/>
<path d="M401.4 860.8H412.2M406.8 855.4V866.2" fill="none" stroke="#efdc45"/>
<path d="M406.3 870.3H417.1M411.7 864.9V875.7" fill="none" stroke="#efdc45"/>
<path d="M412.6 872.5H423.4M418 867.1V877.9" fill="none" stroke="#efdc45"/>
<path d="M397.6 910H408.4M403 904.6V915.4" fill="none" stroke="#efdc45"/>
<path d="M401.4 925.8H412.2M406.8 920.4V931.2" fill="none" stroke="#efdc45"/>
<path d="M422.8 931H433.6M428.2 925.6V936.4" fill="none" stroke="#efdc45"/>
<path d="M454.6 925H465.4M460 919.6V930.4" fill="none" stroke="#efdc45"/>
<path d="M287.8 957.3H298.6M293.2 951.9V962.7" fill="none" stroke="#efdc45"/>
<path d="M298.3 969.3H309.1M303.7 963.9V974.7" fill="none" stroke="#efdc45"/>
<path d="M322.6 967.8H333.4M328 962.4V973.2" fill="none" stroke="#efdc45"/>
<path d="M345.9 970H356.7M351.3 964.6V975.4" fill="none" stroke="#efdc45"/>
<path d="M339.9 984.3H350.7M345.3 978.9V989.7" fill="none" stroke="#efdc45"/>
<path d="M348.1 961H358.9M353.5 955.6V966.4" fill="none" stroke="#efdc45"/>
<path d="M363.1 961.8H373.9M368.5 956.4V967.2" fill="none" stroke="#efdc45"/>
<path d="M375.8 964.8H386.6M381.2 959.4V970.2" fill="none" stroke="#efdc45"/>
<path d="M366.1 973.8H376.9M371.5 968.4V979.2" fill="none" stroke="#efdc45"/>
<path d="M382.6 981.3H393.4M388 975.9V986.7" fill="none" stroke="#efdc45"/>
<path d="M381.1 996.3H391.9M386.5 990.9V1001.7" fill="none" stroke="#efdc45"/>
<path d="M393.9 1012H404.7M399.3 1006.6V1017.4" fill="none" stroke="#efdc45"/>
<path d="M390.9 959.7H401.7M396.3 954.3V965.1" fill="none" stroke="#efdc45"/>
<path d="M369.1 943.8H379.9M374.5 938.4V949.2" fill="none" stroke="#efdc45"/>
<path d="M375.9 943.8H386.7M381.3 938.4V949.2" fill="none" stroke="#efdc45"/>
<path d="M339.1 946H349.9M344.5 940.6V951.4" fill="none" stroke="#efdc45"/>
<path d="M318.9 956.5H329.7M324.3 951.1V961.9" fill="none" stroke="#efdc45"/>
<path d="M327.1 944.5H337.9M332.5 939.1V949.9" fill="none" stroke="#efdc45"/>
<path d="M356.4 941H367.2M361.8 935.6V946.4" fill="none" stroke="#efdc45"/>
<path d="M417.1 943H427.9M422.5 937.6V948.4" fill="none" stroke="#efdc45"/>
<path d="M421.6 943H432.4M427 937.6V948.4" fill="none" stroke="#efdc45"/>
<path d="M465.6 983.5H476.4M471 978.1V988.9" fill="none" stroke="#efdc45"/>
<path d="M308.6 895.5H319.4M314 890.1V900.9" fill="none" stroke="#efdc45"/>
<path d="M320.1 896.5H330.9M325.5 891.1V901.9" fill="none" stroke="#efdc45"/>
<path d="M323.6 897H334.4M329 891.6V902.4" fill="none" stroke="#efdc45"/>
<path d="M331.6 899.5H342.4M337 894.1V904.9" fill="none" stroke="#efdc45"/>
<path d="M334.6 889H345.4M340 883.6V894.4" fill="none" stroke="#efdc45"/>
<path d="M327.6 882H338.4M333 876.6V887.4" fill="none" stroke="#efdc45"/>
<path d="M322.6 881H333.4M328 875.6V886.4" fill="none" stroke="#efdc45"/>
<path d="M341.6 905H352.4M347 899.6V910.4" fill="none" stroke="#efdc45"/>
<path d="M324.6 908H335.4M330 902.6V913.4" fill="none" stroke="#efdc45"/>
<path d="M316.1 909H326.9M321.5 903.6V914.4" fill="none" stroke="#efdc45"/>
<path d="M348.6 912H359.4M354 906.6V917.4" fill="none" stroke="#efdc45"/>
<path d="M351.6 917H362.4M357 911.6V922.4" fill="none" stroke="#efdc45"/>
<path d="M350.6 900H361.4M356 894.6V905.4" fill="none" stroke="#efdc45"/>
<path d="M297.6 915H308.4M303 909.6V920.4" fill="none" stroke="#efdc45"/>
<path d="M306.6 920H317.4M312 914.6V925.4" fill="none" stroke="#efdc45"/>
<path d="M326.6 920H337.4M332 914.6V925.4" fill="none" stroke="#efdc45"/>
<path d="M335.6 920H346.4M341 914.6V925.4" fill="none" stroke="#efdc45"/>
<path d="M309.6 923H320.4M315 917.6V928.4" fill="none" stroke="#efdc45"/>
<path d="M322.6 927H333.4M328 921.6V932.4" fill="none" stroke="#efdc45"/>
<path d="M334.6 928H345.4M340 922.6V933.4" fill="none" stroke="#efdc45"/>
<path d="M314.6 934H325.4M320 928.6V939.4" fill="none" stroke="#efdc45"/>
<path d="M324.6 936H335.4M330 930.6V941.4" fill="none" stroke="#efdc45"/>
<path d="M342.6 936H353.4M348 930.6V941.4" fill="none" stroke="#efdc45"/>
<path d="M352.6 895H363.4M358 889.6V900.4" fill="none" stroke="#efdc45"/>
<path d="M345.6 908H356.4M351 902.6V913.4" fill="none" stroke="#efdc45"/>
<path d="M347.1 914.5H357.9M352.5 909.1V919.9" fill="none" stroke="#efdc45"/>
<path d="M303.6 897H314.4M309 891.6V902.4" fill="none" stroke="#efdc45"/>
<path d="M298.6 904H309.4M304 898.6V909.4" fill="none" stroke="#efdc45"/>
<path d="M339.6 931H350.4M345 925.6V936.4" fill="none" stroke="#efdc45"/>
<path d="M330.6 931H341.4M336 925.6V936.4" fill="none" stroke="#efdc45"/>
<path d="M302.6 928H313.4M308 922.6V933.4" fill="none" stroke="#efdc45"/>
<path d="M311.6 939.5H322.4M317 934.1V944.9" fill="none" stroke="#efdc45"/>
<path d="M332.6 953H343.4M338 947.6V958.4" fill="none" stroke="#efdc45"/>
<path d="M338.6 946H349.4M344 940.6V951.4" fill="none" stroke="#efdc45"/>
<path d="M348.6 961.5H359.4M354 956.1V966.9" fill="none" stroke="#efdc45"/>
<path d="M353.1 961.5H363.9M358.5 956.1V966.9" fill="none" stroke="#efdc45"/>
<rect x="291.9" y="868.6" width="9.8" height="9.8" fill="rgb(229,175,175)" stroke="#e9503a"/>
<rect x="323.4" y="948.9" width="9.8" height="9.8" fill="rgb(229,175,175)" stroke="#e9503a"/>
<ellipse cx="347.7" cy="905.1" rx="106" ry="93.7" transform="rotate(-93.5 347.7 905.1)" fill="none" stroke="#efdc45" stroke-width="1.2"/>
<ellipse cx="322.4" cy="907" rx="101.4" ry="79.8" transform="rotate(159.5 322.4 907)" fill="none" stroke="#41c558" stroke-width="1.1"/>
<ellipse cx="348.6" cy="927.1" rx="108.6" ry="67.7" transform="rotate(-157.1 348.6 927.1)" fill="none" stroke="#4845b3" stroke-width="1.35"/>
</g><g stroke-width="1.25" fill-opacity=".35">
<circle cx="123.7" cy="674.8" r="6.4" fill="rgb(172,169,215)" stroke="#4845b3"/>
<rect x="117.1" y="703.3" width="14.4" height="14.4" fill="rgb(229,175,175)" stroke="#e9503a"/>
<path d="M116.9 738L131.9 753M116.9 753L131.9 738" fill="none" stroke="#41c558" stroke-width="1.05"/>
<path d="M116.9 780.5H131.9M124.4 773V788" fill="none" stroke="#efdc45"/>
</g>
</g>
<text class="i" x="143.2" y="22.3" font-size="25.3" textLength="79.9" lengthAdjust="spacingAndGlyphs">Cooking</text>
<text class="i" x="231.2" y="22.3" font-size="25.3" textLength="45.0" lengthAdjust="spacingAndGlyphs">(45)</text>
<text class="i" x="143.8" y="57.6" font-size="25.3" textLength="73.2" lengthAdjust="spacingAndGlyphs">Serving</text>
<text class="i" x="226" y="57.6" font-size="25.3" textLength="45.0" lengthAdjust="spacingAndGlyphs">(55)</text>
<text class="i" x="143.8" y="93" font-size="25.3" textLength="76.7" lengthAdjust="spacingAndGlyphs">Storage</text>
<text class="i" x="228.8" y="93" font-size="25.3" textLength="45.0" lengthAdjust="spacingAndGlyphs">(55)</text>
<text class="i" x="144.8" y="128.5" font-size="25.3" textLength="82.3" lengthAdjust="spacingAndGlyphs">Drinking</text>
<text class="i" x="236.2" y="128.5" font-size="25.3" textLength="41.0" lengthAdjust="spacingAndGlyphs">(15)</text>
<text class="i" x="148" y="402.2" font-size="25.3" textLength="93.9" lengthAdjust="spacingAndGlyphs">Pedestals</text>
<text class="i" x="249.8" y="402.2" font-size="25.3" textLength="30.9" lengthAdjust="spacingAndGlyphs">(3)</text>
<text class="i" x="146.2" y="432" font-size="25.3" textLength="98.1" lengthAdjust="spacingAndGlyphs">Vessel ear</text>
<text class="i" x="253.8" y="432" font-size="25.3" textLength="30.9" lengthAdjust="spacingAndGlyphs">(3)</text>
<text class="i" x="144.8" y="462.8" font-size="25.3" textLength="139.6" lengthAdjust="spacingAndGlyphs">Red burnt clay</text>
<text class="i" x="295" y="462.8" font-size="25.3" textLength="26.8" lengthAdjust="spacingAndGlyphs">(1)</text>
<text class="i" x="144.8" y="495.4" font-size="25.3" textLength="139.9" lengthAdjust="spacingAndGlyphs">Indeterminate</text>
<text class="i" x="293" y="495.4" font-size="25.3" textLength="26.8" lengthAdjust="spacingAndGlyphs">(1)</text>
<text class="i" x="154.8" y="681" font-size="25.3" textLength="152.5" lengthAdjust="spacingAndGlyphs">Fiber-tempered</text>
<text class="i" x="316.6" y="681" font-size="25.3" textLength="46.2" lengthAdjust="spacing">(46)</text>
<text class="i" x="154.8" y="717.3" font-size="25.3" textLength="248.8" lengthAdjust="spacingAndGlyphs">Fiber- and coarse-pasted</text>
<text class="i" x="413.2" y="717.3" font-size="25.3" textLength="30.9" lengthAdjust="spacingAndGlyphs">(2)</text>
<text class="i" x="153" y="752.3" font-size="25.3" textLength="127.9" lengthAdjust="spacingAndGlyphs">Coarse-paste</text>
<text class="i" x="290" y="752.3" font-size="25.3" textLength="45.0" lengthAdjust="spacingAndGlyphs">(26)</text>
<text class="i" x="154.8" y="787.2" font-size="25.3" textLength="104.7" lengthAdjust="spacingAndGlyphs">Fine-paste</text>
<text class="i" x="268" y="787.2" font-size="25.3" textLength="48.2" lengthAdjust="spacingAndGlyphs">(117)</text>
<text class="i" x="144" y="160" font-size="25.3" textLength="91.3" lengthAdjust="spacingAndGlyphs">Vessel lid</text>
<text class="i" x="147" y="190.2" font-size="25.3" textLength="40.7" lengthAdjust="spacingAndGlyphs">(13)</text>
<text class="b" x="557.2" y="414.7" font-size="38.5" textLength="18.1" lengthAdjust="spacingAndGlyphs">a</text>
<text class="i" x="479.8" y="456.1" font-size="24.2" textLength="112.3" lengthAdjust="spacingAndGlyphs">FUNCTION</text>
<text class="i" x="357" y="488" font-size="25.3" textLength="54.3" lengthAdjust="spacing">90%</text>
<text class="i" x="420.8" y="488" font-size="25.3" textLength="99.3" lengthAdjust="spacingAndGlyphs">confidence</text>
<text class="i" x="530" y="488" font-size="25.3" textLength="60.1" lengthAdjust="spacingAndGlyphs">ellipse</text>
<text class="i" x="256.8" y="611.3" font-size="31.5" textLength="60.7" lengthAdjust="spacingAndGlyphs">PCA1</text>
<text class="i" x="325.8" y="611.3" font-size="31.5" textLength="117.6" lengthAdjust="spacing">(24.8%)</text>
<text class="b" x="554.2" y="1067.3" font-size="38.5" textLength="21.2" lengthAdjust="spacingAndGlyphs">b</text>
<text class="i" x="521.4" y="1108.4" font-size="24.2" textLength="65.8" lengthAdjust="spacingAndGlyphs">PASTE</text>
<text class="i" x="362.2" y="1143.5" font-size="25.3" textLength="54.3" lengthAdjust="spacing">90%</text>
<text class="i" x="426" y="1143.5" font-size="25.3" textLength="100.3" lengthAdjust="spacingAndGlyphs">confidence</text>
<text class="i" x="535.2" y="1143.5" font-size="25.3" textLength="60.1" lengthAdjust="spacingAndGlyphs">ellipse</text>
<text class="i" x="251" y="1262.6" font-size="31.5" textLength="62.5" lengthAdjust="spacingAndGlyphs">PCA1</text>
<text class="i" x="320.2" y="1262.6" font-size="31.5" textLength="120.2" lengthAdjust="spacing">(24.8%)</text>
<text class="i" font-size="31.5" transform="translate(28.8 361.3) rotate(-90)" textLength="61.8" lengthAdjust="spacingAndGlyphs">PCA2</text>
<text class="i" font-size="31.5" transform="translate(28.8 286.3) rotate(-90)" textLength="117.0" lengthAdjust="spacing">(22.4%)</text>
<text class="i" font-size="31.5" transform="translate(28.7 1009.5) rotate(-90)" textLength="61.0" lengthAdjust="spacingAndGlyphs">PCA2</text>
<text class="i" font-size="31.5" transform="translate(28.7 932.7) rotate(-90)" textLength="115.8" lengthAdjust="spacing">(22.4%)</text>
</svg></body></html>
